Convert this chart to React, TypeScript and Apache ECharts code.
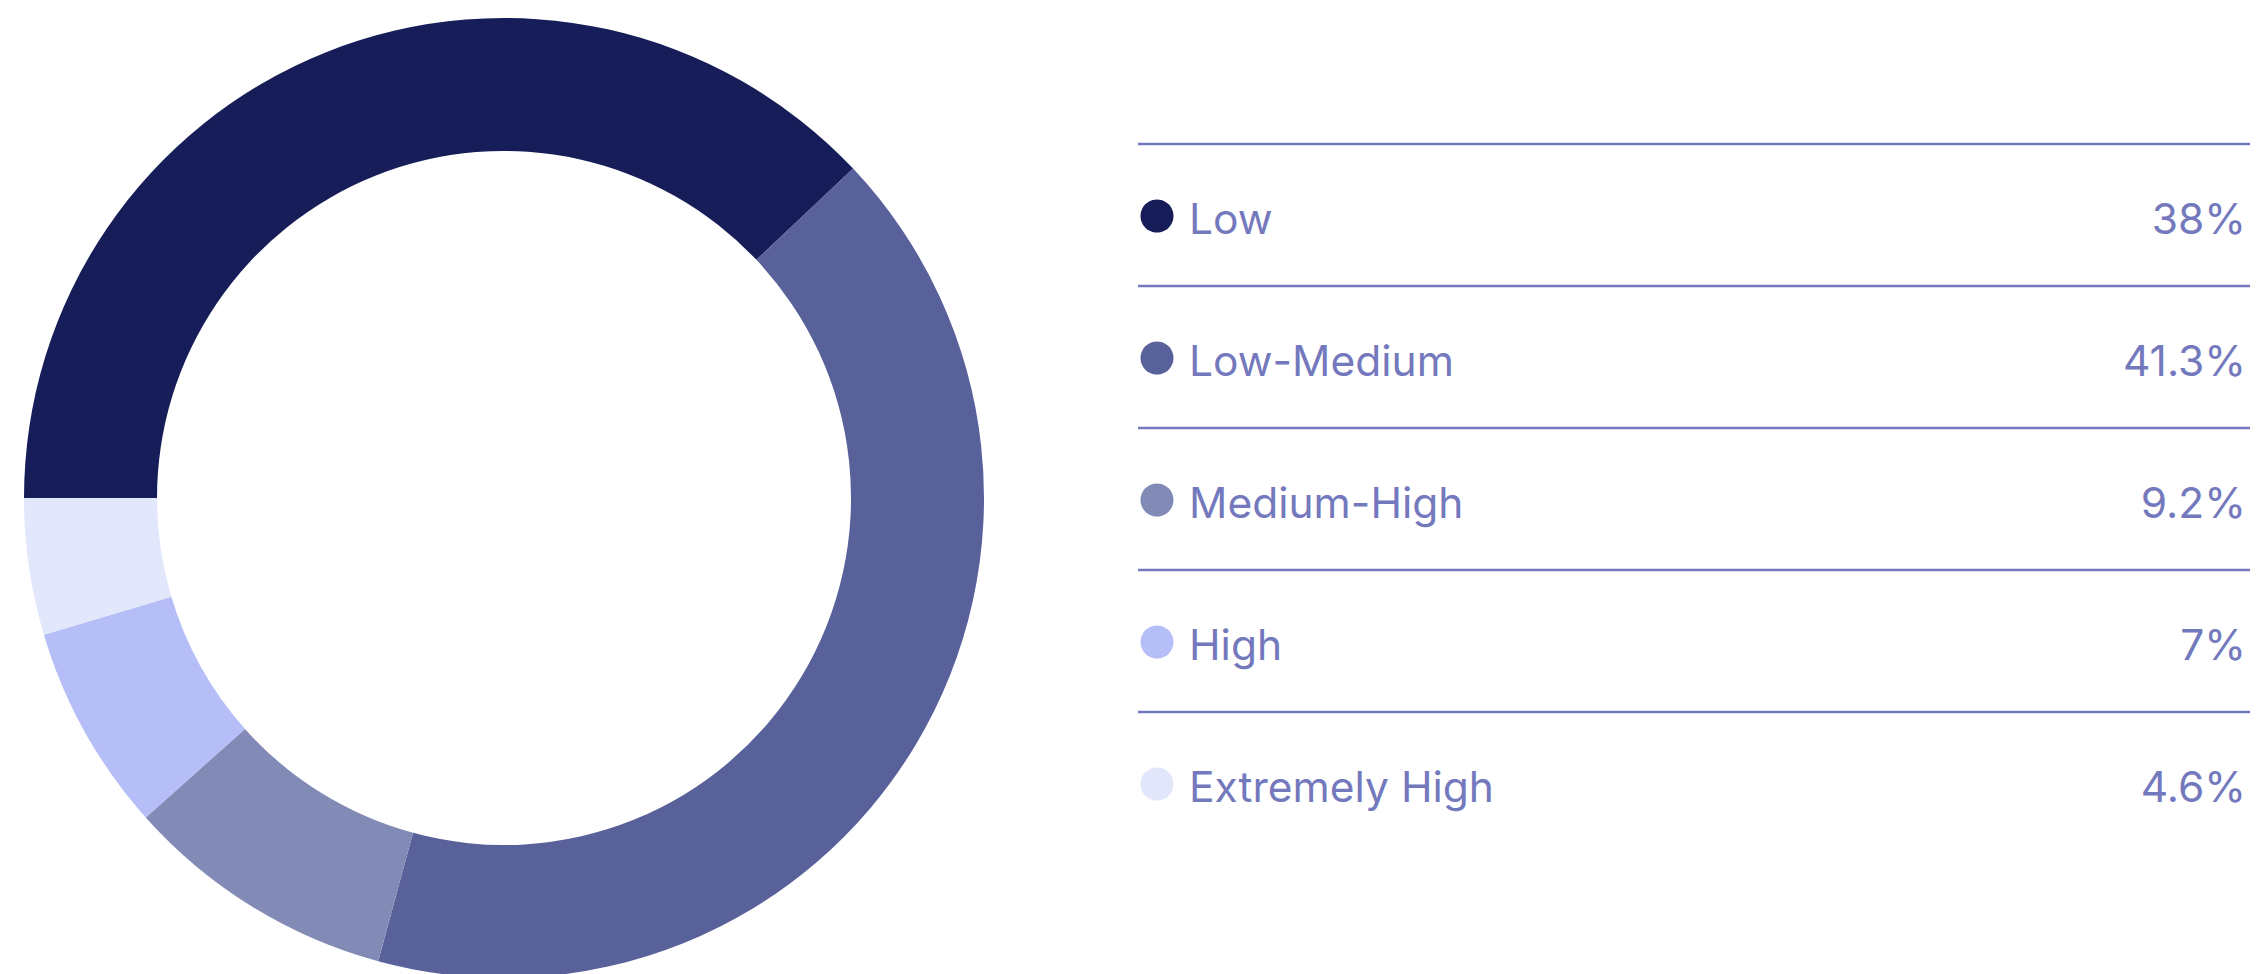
import React, { useEffect, useRef } from "react";
import * as echarts from "echarts";

const categories = ["Low", "Low-Medium", "Medium-High", "High", "Extremely High"];
const values = [38, 41.3, 9.2, 7, 4.6];
const colors = ["#161D59", "#59619B", "#828AB6", "#B6BEF8", "#E2E7FC"];

export default function App() {
  const ref = useRef<HTMLDivElement>(null);
  useEffect(() => {
    document.body.style.margin = "0";
    if (!ref.current) return;
    const chart = echarts.init(ref.current, undefined, { renderer: "svg" });

    const textColor = "#7479BD";
    const lineColor = "#7478BC";
    const lineX1 = 1138;
    const lineX2 = 2250;
    const firstLineY = 144;
    const rowH = 142;
    const font = '400 42.5px Inter, "Noto Sans", sans-serif';
    const graphics: any[] = [];
    categories.forEach((name, i) => {
      const top = firstLineY + rowH * i;
      const mid = top + rowH / 2 + 3;
      graphics.push({
        type: "line",
        shape: { x1: lineX1, y1: top, x2: lineX2, y2: top },
        style: { stroke: lineColor, lineWidth: 2.5 },
        silent: true,
      });
      graphics.push({
        type: "circle",
        shape: { cx: 1157, cy: mid - 2, r: 16.5 },
        style: { fill: colors[i] },
        silent: true,
      });
      graphics.push({
        type: "text",
        x: 1189,
        y: mid,
        style: {
          text: name,
          fill: textColor,
          font,
          textAlign: "left",
          textVerticalAlign: "middle",
        },
        silent: true,
      });
      graphics.push({
        type: "text",
        x: 2246,
        y: mid,
        style: {
          text: values[i] + "%",
          fill: textColor,
          font,
          textAlign: "right",
          textVerticalAlign: "middle",
        },
        silent: true,
      });
    });

    chart.setOption({
      animation: false,
      backgroundColor: "#ffffff",
      series: [
        {
          type: "pie",
          center: [504, 498],
          radius: [347, 480],
          startAngle: 180,
          clockwise: true,
          label: { show: false },
          labelLine: { show: false },
          emphasis: { disabled: true },
          itemStyle: { borderWidth: 0 },
          data: categories.map((name, i) => ({
            name,
            value: values[i],
            itemStyle: { color: colors[i] },
          })),
        },
      ],
      graphic: graphics,
    });
    return () => chart.dispose();
  }, []);
  return <div ref={ref} style={{ width: 2259, height: 974 }} />;
}
